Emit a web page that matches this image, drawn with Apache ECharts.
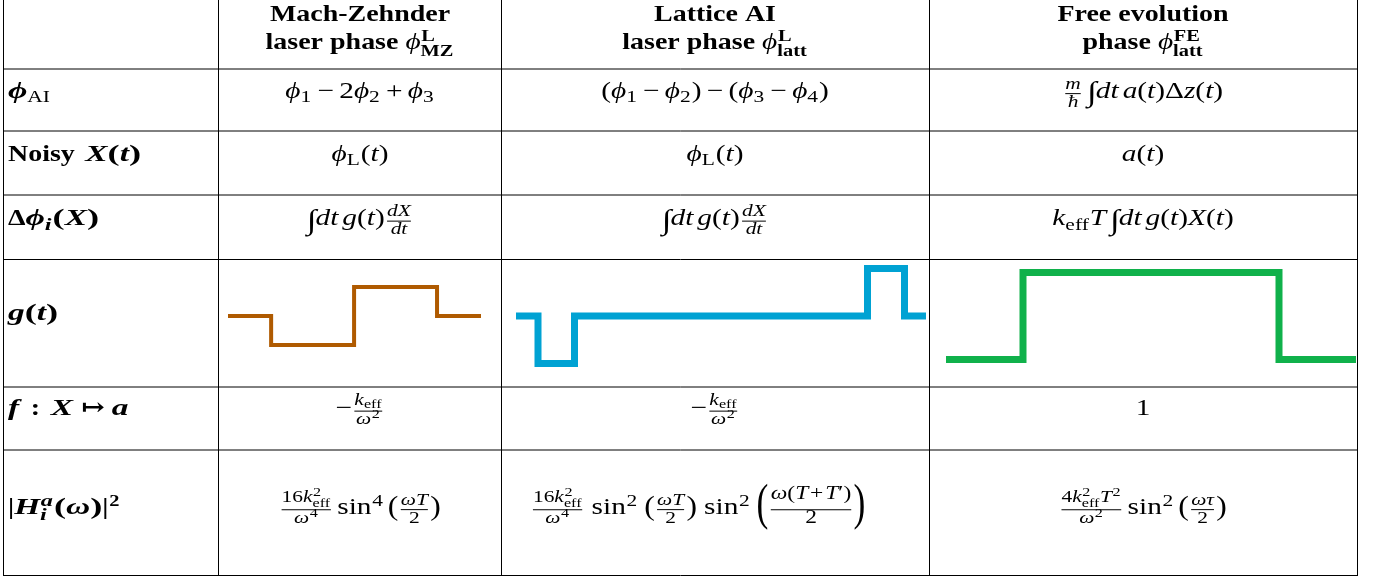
<!DOCTYPE html>
<html>
<head>
<meta charset="utf-8">
<script src="https://cdn.jsdelivr.net/npm/echarts@6/dist/echarts.min.js"></script>
<style>
  html, body { margin: 0; padding: 0; background: #fff; }
  #chart { width: 1380px; height: 581px; }
</style>
</head>
<body>
<div id="chart"></div>
<script>
// g(t) step functions, time in arbitrary units, value = sign of g on [t_i, t_i+1)
const mzTimes = [0, 0.52, 1.52, 2.52, 3.05];
const mzValues = [0, -1, 1, 0, 0];
const lattTimes = [0, 0.22, 0.585, 3.515, 3.885, 4.10];
const lattValues = [0, -1, 0, 1, 0, 0];
const feTimes = [0, 0.77, 3.33, 4.10];
const feValues = [0, 1, 0, 0];

// little math markup helpers
const r = s => ({k: 't', s: s, st: 'r'});
const i = s => ({k: 't', s: s, st: 'i'});
const b = s => ({k: 't', s: s, st: 'b'});
const bi = s => ({k: 't', s: s, st: 'bi'});
const bp = s => ({k: 't', s: s, st: 'b', sx: 1.55}); // bold math parens are wide
const sp = w => ({k: 'sp', w: w});
const sub = (...n) => ({k: 'ss', sub: n});
const sup = (...n) => ({k: 'ss', sup: n});
const ss = (p, q) => ({k: 'ss', sup: p, sub: q});
const fr = (num, den, opt) => Object.assign({k: 'fr', num: num, den: den}, opt || {});
const par = (s, h, sx) => ({k: 'par', s: s, h: h, sx: sx});
const INT = {k: 'int'};
const bin = s => [sp(0.222), r(s), sp(0.222)];

// header titles (two lines per column)
const columnTitles = [
  [[b('Mach-Zehnder')], [b('laser phase '), i('ϕ'), ss([b('L')], [b('MZ')])]],
  [[b('Lattice AI')], [b('laser phase '), i('ϕ'), ss([b('L')], [b('latt')])]],
  [[b('Free evolution')], [b('phase '), i('ϕ'), ss([b('FE')], [b('latt')])]]
];

const rowLabels = [
  [bi('ϕ'), sub(r('AI'))],
  [b('Noisy '), sp(0.15), bi('X'), bp('('), bi('t'), bp(')')],
  [b('Δ'), bi('ϕ'), sub(bi('i')), bp('('), bi('X'), bp(')')],
  [bi('g'), bp('('), bi('t'), bp(')')],
  [bi('f'), sp(0.5), b(':'), sp(0.45), bi('X'), sp(0.35), b('↦'), sp(0.3), bi('a')],
  [b('|'), bi('H'), ss([bi('a')], [bi('i')]), bp('('), bi('ω'), bp(')'), b('|'), sup(b('2'))]
];

const keff2 = [i('k'), ss([r('2')], [r('eff')])];
const colMZ = [
  [i('ϕ'), sub(r('1')), ...bin('−'), r('2'), i('ϕ'), sub(r('2')), ...bin('+'), i('ϕ'), sub(r('3'))],
  [i('ϕ'), sub(r('L')), r('('), i('t'), r(')')],
  [INT, i('dt'), sp(0.17), i('g'), r('('), i('t'), r(')'), fr([i('dX')], [i('dt')])],
  null,
  [r('−'), fr([i('k'), sub(r('eff'))], [i('ω'), sup(r('2'))])],
  [fr([r('16'), ...keff2], [i('ω'), sup(r('4'))]), sp(0.17), r('sin'), sup(r('4')), sp(0.17),
    par('(', 1.2, 0.9), fr([i('ωT')], [r('2')]), par(')', 1.2, 0.9)]
];
const colLatt = [
  [r('('), i('ϕ'), sub(r('1')), ...bin('−'), i('ϕ'), sub(r('2')), r(')'), ...bin('−'),
    r('('), i('ϕ'), sub(r('3')), ...bin('−'), i('ϕ'), sub(r('4')), r(')')],
  [i('ϕ'), sub(r('L')), r('('), i('t'), r(')')],
  [INT, i('dt'), sp(0.17), i('g'), r('('), i('t'), r(')'), fr([i('dX')], [i('dt')])],
  null,
  [r('−'), fr([i('k'), sub(r('eff'))], [i('ω'), sup(r('2'))])],
  [fr([r('16'), ...keff2], [i('ω'), sup(r('4'))]), sp(0.3), r('sin'), sup(r('2')), sp(0.25),
    par('(', 1.2, 0.9), fr([i('ωT')], [r('2')]), par(')', 1.2, 0.9), sp(0.3),
    r('sin'), sup(r('2')), sp(0.25),
    par('(', 2.2, 0.55),
    fr([i('ω'), r('('), i('T'), sp(0.1), r('+'), sp(0.1), i('T'), r('′'), r(')')], [r('2')], {lv: 4, nu: 0.62, dn: 0.37}),
    par(')', 2.2, 0.55)]
];
const colFE = [
  [fr([i('m')], [i('ħ')]), sp(0.17), INT, i('dt'), sp(0.17), i('a'), r('('), i('t'), r(')'), r('Δ'), i('z'), r('('), i('t'), r(')')],
  [i('a'), r('('), i('t'), r(')')],
  [i('k'), sub(r('eff')), i('T'), sp(0.17), INT, i('dt'), sp(0.17), i('g'), r('('), i('t'), r(')'), i('X'), r('('), i('t'), r(')')],
  null,
  [r('1')],
  [fr([r('4'), ...keff2, i('T'), sup(r('2'))], [i('ω'), sup(r('2'))]), sp(0.17), r('sin'), sup(r('2')), sp(0.17),
    par('(', 1.2, 0.9), fr([i('ωτ')], [r('2')]), par(')', 1.2, 0.9)]
];

// table geometry
const colX = [3.5, 218.5, 501.5, 929.5, 1357.5];
const colC = [360, 715, 1143];
const rowY = [69, 131, 195, 259.5, 387, 450, 575.5];
const rowBase = [99.5, 162.5, 227, 322, 417, 515.5];
const headBase = [22.5, 51];
const centerFix = {'5,1': 698}; // the long lattice transfer function sits left of centre

const FAM = "'Liberation Serif','DejaVu Serif',serif";
const S = 23.5;
const SZ = [S, 0.73 * S, 0.55 * S, 0.55 * S, 0.8 * S];
const SXR = 1.25, SXB = 1.19, SXBI = 1.42;
const mctx = document.createElement('canvas').getContext('2d');

function fontOf(st, size) {
  return (st.indexOf('i') >= 0 ? 'italic ' : '') + (st.indexOf('b') >= 0 ? 'bold ' : '') + size.toFixed(2) + 'px ' + FAM;
}
function stretchOf(st) {
  return st === 'bi' ? SXBI : st === 'b' ? SXB : SXR;
}
function measure(text, font) {
  mctx.font = font;
  return mctx.measureText(text).width;
}

function lay(nodes, lvl) {
  const s = SZ[lvl];
  const next = lvl === 4 ? 2 : Math.min(lvl + 1, 3);
  const items = [];
  let x = 0;
  function put(box, dx, dy) {
    box.items.forEach(function (it) {
      const c = Object.assign({}, it);
      c.x += dx; c.dy += dy;
      items.push(c);
    });
  }
  nodes.forEach(function (n) {
    if (n.k === 't') {
      const f = fontOf(n.st, s), sx = n.sx || stretchOf(n.st);
      items.push({type: 'text', x: x, dy: 0, text: n.s, font: f, size: s, sx: sx});
      x += measure(n.s, f) * sx;
    } else if (n.k === 'sp') {
      x += n.w * s;
    } else if (n.k === 'ss') {
      let w = 0;
      if (n.sup) {
        const bx = lay(n.sup, next);
        put(bx, x + 0.03 * s, -0.36 * s);
        w = Math.max(w, bx.w + 0.03 * s);
      }
      if (n.sub) {
        const bx = lay(n.sub, next);
        put(bx, x, (n.sup ? 0.26 : 0.17) * s);
        w = Math.max(w, bx.w);
      }
      x += w + 0.04 * s;
    } else if (n.k === 'fr') {
      const lv = n.lv != null ? n.lv : next;
      const num = lay(n.num, lv), den = lay(n.den, lv);
      const W = Math.max(num.w, den.w), pad = 0.1 * s;
      const nu = n.nu != null ? n.nu * s : Math.max(0.4 * s, 0.33 * s + num.dep);
      const dn = (n.dn != null ? n.dn : 0.36) * s;
      put(num, x + pad + (W - num.w) / 2, -nu);
      put(den, x + pad + (W - den.w) / 2, dn);
      items.push({type: 'rule', x: x + pad, w: W, dy: -0.25 * s, th: Math.max(1, 0.04 * s)});
      x += W + 2 * pad;
    } else if (n.k === 'par') {
      const ps = n.h * s, f = fontOf('r', ps), sx = SXR * (n.sx || 1);
      items.push({type: 'text', x: x, dy: -0.25 * s + 0.26 * ps, text: n.s, font: f, size: ps, sx: sx});
      x += measure(n.s, f) * sx;
    } else if (n.k === 'int') {
      const ps = 1.2 * s, f = fontOf('r', ps);
      items.push({type: 'text', x: x, dy: 0.17 * s, text: '∫', font: f, size: ps, sx: SXR});
      x += measure('∫', f) * SXR * 0.9;
    }
  });
  let dep = 0;
  items.forEach(function (it) { if (it.type === 'text') dep = Math.max(dep, it.dy); });
  return {w: x, items: items, dep: dep};
}

const graphics = [];
function place(nodes, X, B, align) {
  const box = lay(nodes, 0);
  const x0 = align === 'center' ? X - box.w / 2 : X;
  box.items.forEach(function (it) {
    if (it.type === 'text') {
      graphics.push({
        type: 'text', silent: true, x: x0 + it.x, y: B + it.dy - 0.34 * it.size, scaleX: it.sx,
        style: {text: it.text, font: it.font, fill: '#000', textAlign: 'left', textVerticalAlign: 'middle'}
      });
    } else {
      graphics.push({
        type: 'rect', silent: true,
        shape: {x: x0 + it.x, y: B + it.dy - it.th / 2, width: it.w, height: it.th},
        style: {fill: '#000'}
      });
    }
  });
}

// table rules
rowY.forEach(function (y) {
  graphics.push({type: 'line', silent: true, shape: {x1: colX[0], y1: y, x2: colX[4], y2: y}, style: {stroke: '#000', lineWidth: 1}});
});
colX.forEach(function (x) {
  graphics.push({type: 'line', silent: true, shape: {x1: x, y1: 0, x2: x, y2: 576}, style: {stroke: '#000', lineWidth: 1}});
});

// header
columnTitles.forEach(function (lines, c) {
  lines.forEach(function (ln, k) { place(ln, colC[c], headBase[k], 'center'); });
});
// rows
rowLabels.forEach(function (lab, k) {
  place(lab, 8, rowBase[k], 'left');
  [colMZ, colLatt, colFE].forEach(function (col, c) {
    const cx = centerFix[k + ',' + c] || colC[c];
    if (col[k]) place(col[k], cx, rowBase[k], 'center');
  });
});

function steps(times, values) {
  return times.map(function (t, j) { return [t, values[j]]; });
}
function stepSeries(idx, data, color, width) {
  return {
    type: 'line', xAxisIndex: idx, yAxisIndex: idx, step: 'end', symbol: 'none',
    clip: false, silent: true, data: data,
    lineStyle: {color: color, width: width, cap: 'butt', join: 'miter'}
  };
}

const chart = echarts.init(document.getElementById('chart'));
chart.setOption({
  animation: false,
  backgroundColor: '#fff',
  grid: [
    {left: 228, top: 287, width: 253, height: 58},
    {left: 516, top: 268.5, width: 410, height: 95},
    {left: 946, top: 272.5, width: 410, height: 87}
  ],
  xAxis: [
    {type: 'value', gridIndex: 0, min: 0, max: mzTimes[mzTimes.length - 1], show: false},
    {type: 'value', gridIndex: 1, min: 0, max: lattTimes[lattTimes.length - 1], show: false},
    {type: 'value', gridIndex: 2, min: 0, max: feTimes[feTimes.length - 1], show: false}
  ],
  yAxis: [
    {type: 'value', gridIndex: 0, min: -1, max: 1, show: false},
    {type: 'value', gridIndex: 1, min: -1, max: 1, show: false},
    {type: 'value', gridIndex: 2, min: 0, max: 1, show: false}
  ],
  series: [
    stepSeries(0, steps(mzTimes, mzValues), '#AF5A00', 4),
    stepSeries(1, steps(lattTimes, lattValues), '#00A2D3', 7),
    stepSeries(2, steps(feTimes, feValues), '#10B14B', 7)
  ],
  graphic: {elements: graphics}
});
</script>
</body>
</html>
